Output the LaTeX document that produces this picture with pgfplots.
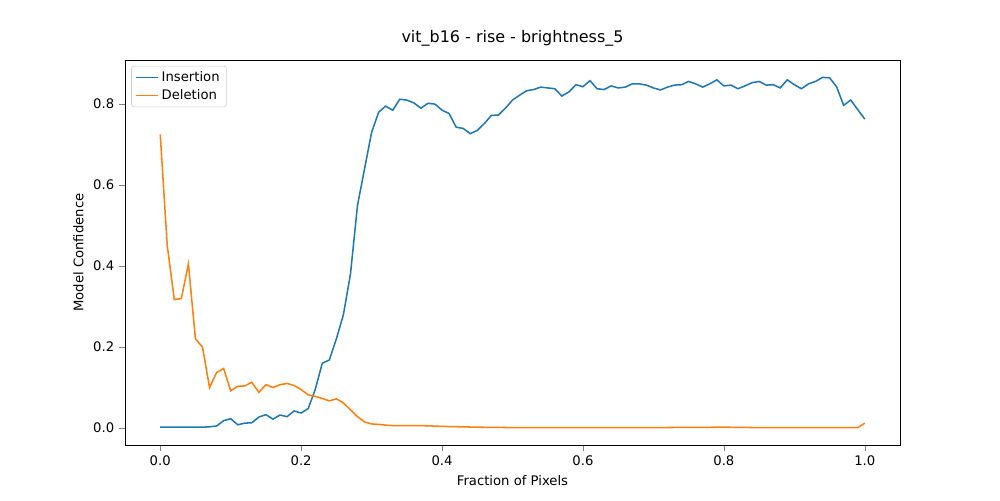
\documentclass[border=0pt]{standalone}
\usepackage{pgfplots}
\pgfplotsset{compat=1.18}
\usepackage{fontspec}
\setmainfont{DejaVu Sans}
\definecolor{mblue}{HTML}{1F77B4}
\definecolor{morange}{HTML}{FF7F0E}
\begin{document}
\begin{tikzpicture}
\path[use as bounding box] (0,0) rectangle (720pt,360pt);
\begin{axis}[at={(90pt,39.6pt)},anchor=south west,scale only axis,width=558pt,height=277.2pt,
xmin=-0.05,xmax=1.05,ymin=-0.042,ymax=0.909,
xtick={0,0.2,0.4,0.6,0.8,1.0},ytick={0,0.2,0.4,0.6,0.8},
xticklabel style={/pgf/number format/.cd,fixed,fixed zerofill,precision=1},
yticklabel style={/pgf/number format/.cd,fixed,fixed zerofill,precision=1},
/pgf/number format/assume math mode=true,
tick label style={font=\fontsize{9.5}{11}\selectfont},
tick align=outside,tick pos=left,
title={vit\_b16 - rise - brightness\_5},title style={font=\fontsize{11.5}{14}\selectfont},
xlabel={Fraction of Pixels},ylabel={Model Confidence},
label style={font=\fontsize{9.5}{12}\selectfont},
legend style={at={(0.008,0.985)},anchor=north west,font=\fontsize{9.5}{12}\selectfont,draw=black!20,rounded corners=2pt},
legend cell align=left,
legend image code/.code={\draw[line width=1.1pt] (0cm,0cm) -- (0.55cm,0cm);},
]
\addplot[mblue,line width=1.1pt] coordinates {
(0,0.002)(0.01,0.002)(0.02,0.002)(0.03,0.002)(0.04,0.002)(0.05,0.002)(0.06,0.002)(0.07,0.003)(0.08,0.005)(0.09,0.018)(0.10,0.023)(0.11,0.008)(0.12,0.012)(0.13,0.013)(0.14,0.027)(0.15,0.033)(0.16,0.022)(0.17,0.032)(0.18,0.028)(0.19,0.042)(0.20,0.037)(0.21,0.048)(0.22,0.095)(0.23,0.16)(0.24,0.168)(0.25,0.22)(0.26,0.28)(0.27,0.38)(0.28,0.55)(0.29,0.64)(0.30,0.73)(0.31,0.78)(0.32,0.795)(0.33,0.785)(0.34,0.812)(0.35,0.81)(0.36,0.803)(0.37,0.79)(0.38,0.802)(0.39,0.80)(0.40,0.785)(0.41,0.777)(0.42,0.743)(0.43,0.74)(0.44,0.727)(0.45,0.735)(0.46,0.752)(0.47,0.772)(0.48,0.773)(0.49,0.79)(0.50,0.81)(0.51,0.822)(0.52,0.833)(0.53,0.836)(0.54,0.842)(0.55,0.84)(0.56,0.838)(0.57,0.82)(0.58,0.83)(0.59,0.848)(0.60,0.843)(0.61,0.858)(0.62,0.838)(0.63,0.836)(0.64,0.845)(0.65,0.84)(0.66,0.842)(0.67,0.85)(0.68,0.85)(0.69,0.847)(0.70,0.84)(0.71,0.835)(0.72,0.842)(0.73,0.847)(0.74,0.848)(0.75,0.856)(0.76,0.85)(0.77,0.842)(0.78,0.85)(0.79,0.86)(0.80,0.845)(0.81,0.847)(0.82,0.838)(0.83,0.845)(0.84,0.853)(0.85,0.856)(0.86,0.847)(0.87,0.848)(0.88,0.84)(0.89,0.86)(0.90,0.848)(0.91,0.838)(0.92,0.85)(0.93,0.856)(0.94,0.866)(0.95,0.865)(0.96,0.843)(0.97,0.797)(0.98,0.81)(1.0,0.763)};
\addlegendentry{Insertion}
\addplot[morange,line width=1.1pt] coordinates {
(0,0.725)(0.01,0.45)(0.02,0.317)(0.03,0.32)(0.04,0.405)(0.05,0.22)(0.06,0.2)(0.07,0.1)(0.08,0.137)(0.09,0.147)(0.10,0.092)(0.11,0.103)(0.12,0.104)(0.13,0.113)(0.14,0.088)(0.15,0.107)(0.16,0.1)(0.17,0.107)(0.18,0.11)(0.19,0.105)(0.20,0.095)(0.21,0.082)(0.22,0.078)(0.23,0.073)(0.24,0.067)(0.25,0.072)(0.26,0.062)(0.27,0.045)(0.28,0.028)(0.29,0.015)(0.30,0.01)(0.31,0.009)(0.32,0.007)(0.33,0.006)(0.35,0.006)(0.37,0.006)(0.40,0.004)(0.45,0.002)(0.5,0.001)(0.6,0.001)(0.7,0.001)(0.8,0.002)(0.85,0.001)(0.9,0.001)(0.95,0.001)(0.99,0.001)(1.0,0.012)};
\addlegendentry{Deletion}
\end{axis}
\end{tikzpicture}
\end{document}
